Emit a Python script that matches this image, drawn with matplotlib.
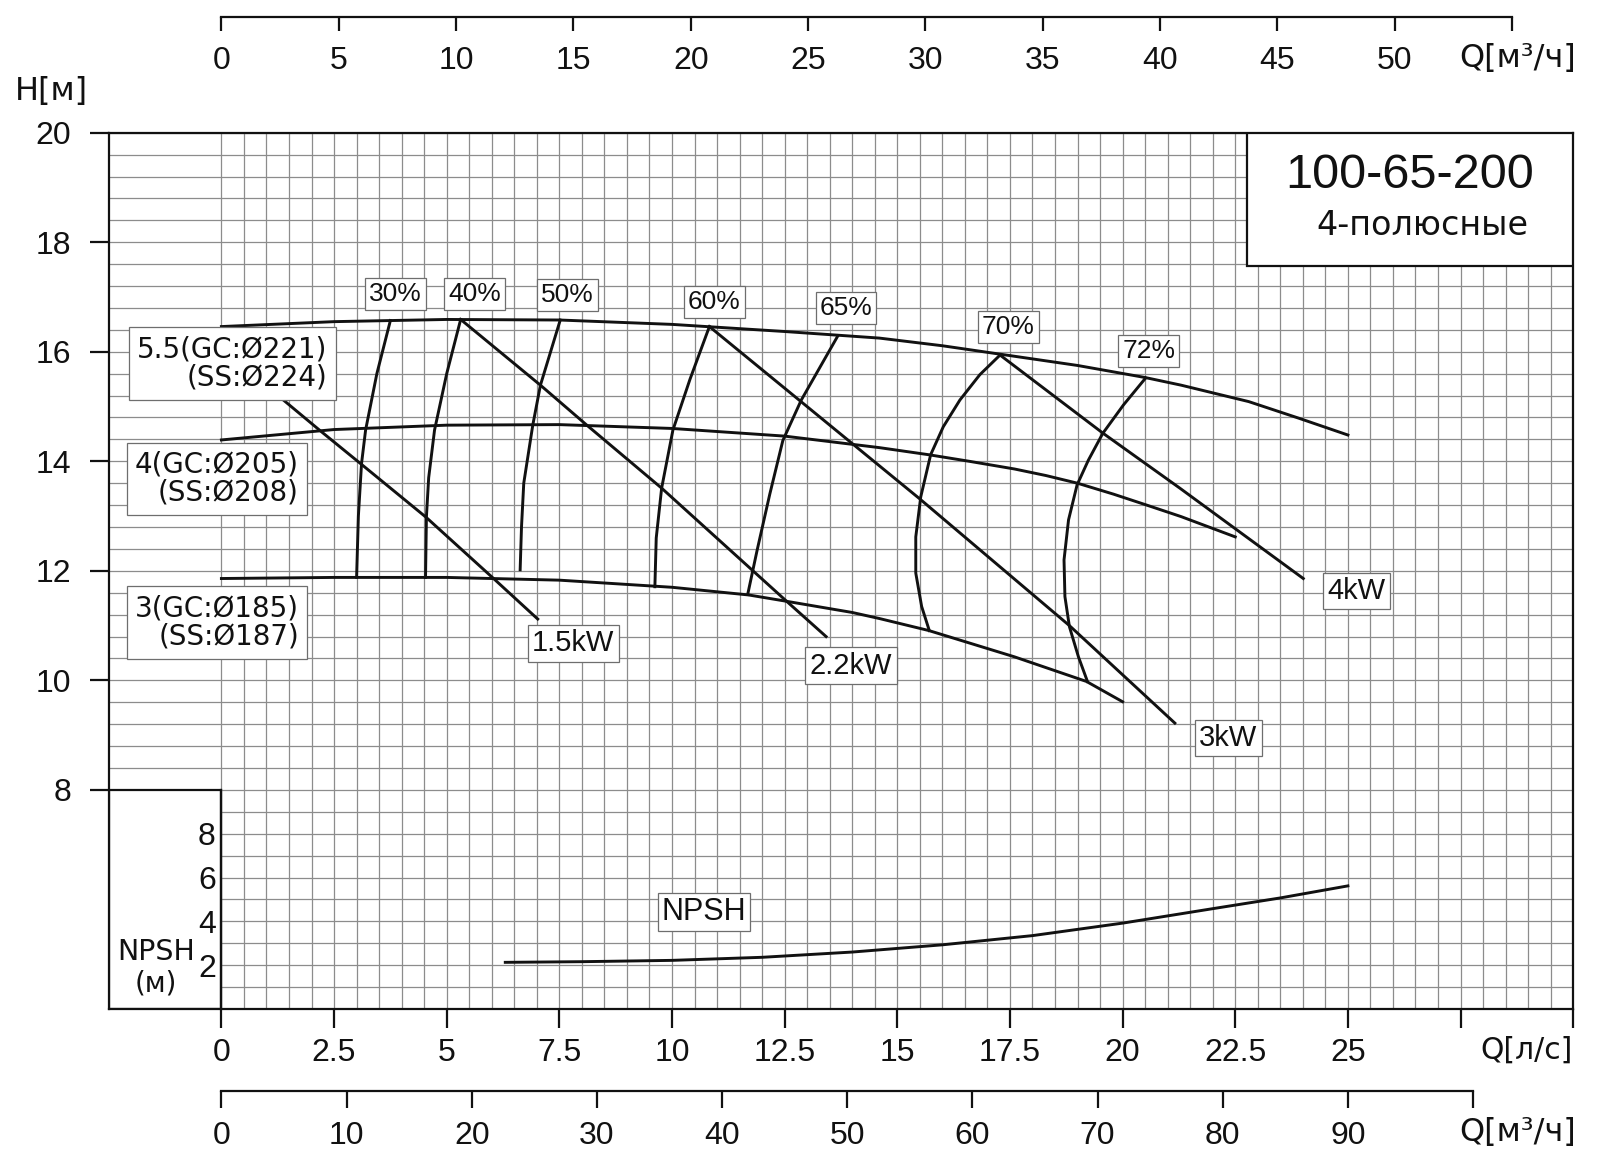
import numpy as np
import matplotlib
matplotlib.use('Agg')
from matplotlib import pyplot, patches, ticker

# head curves, Q in l/s, H in m
q_221 = [0, 2.5, 5, 7.5, 10, 12.5, 14.6, 16, 17.5, 19, 20.5, 21.3, 22.8, 23.9, 25]
h_221 = [16.46, 16.55, 16.59, 16.58, 16.50, 16.37, 16.25, 16.11, 15.93, 15.75, 15.53, 15.39, 15.09, 14.79, 14.48]
q_205 = [0, 2.5, 5, 7.5, 10, 12.5, 14.6, 15.7, 16.6, 17.6, 18.3, 19, 19.8, 20.5, 21.3, 22.5]
h_205 = [14.39, 14.58, 14.66, 14.67, 14.60, 14.46, 14.25, 14.12, 14.00, 13.86, 13.74, 13.60, 13.40, 13.21, 12.99, 12.62]
q_185 = [0, 2.5, 5, 7.5, 10, 11.7, 12.5, 14, 14.6, 15.7, 17.6, 19.2, 20.0]
h_185 = [11.86, 11.88, 11.88, 11.83, 11.70, 11.56, 11.45, 11.24, 11.13, 10.91, 10.43, 9.98, 9.61]
head_labels = ['5.5(GC:Ø221)\n(SS:Ø224)', '4(GC:Ø205)\n(SS:Ø208)', '3(GC:Ø185)\n(SS:Ø187)']

# iso-efficiency curves
eff_labels = ['30%', '40%', '50%', '60%', '65%', '70%', '72%']
eff_q = [[3.75, 3.45, 3.2, 3.11, 3.04, 3.0],
         [5.31, 5.0, 4.73, 4.6, 4.55, 4.53],
         [7.52, 7.08, 6.91, 6.71, 6.66, 6.63],
         [10.83, 10.4, 10.02, 9.77, 9.65, 9.62],
         [13.68, 12.87, 12.46, 12.17, 11.89, 11.68],
         [17.28, 16.83, 16.39, 16.02, 15.74, 15.52, 15.41, 15.41, 15.54, 15.71],
         [20.51, 20.02, 19.56, 19.24, 18.99, 18.80, 18.70, 18.72, 18.82, 19.02, 19.22]]
eff_h = [[16.57, 15.6, 14.57, 13.96, 13.0, 11.88],
         [16.59, 15.6, 14.57, 13.7, 12.99, 11.88],
         [16.58, 15.39, 14.66, 13.6, 12.8, 12.02],
         [16.46, 15.5, 14.57, 13.51, 12.6, 11.71],
         [16.29, 15.12, 14.38, 13.4, 12.38, 11.57],
         [15.94, 15.58, 15.12, 14.63, 14.12, 13.35, 12.62, 11.96, 11.35, 10.91],
         [15.52, 15.03, 14.51, 14.02, 13.57, 12.93, 12.20, 11.53, 10.98, 10.43, 9.98]]

# motor power lines
power_labels = ['1.5kW', '2.2kW', '3kW', '4kW']
power_q = [[1.33, 2.22, 3.13, 4.54, 6.04, 7.02],
           [5.31, 7.08, 8.11, 9.77, 12.55, 13.42],
           [10.83, 15.49, 18.82, 21.16],
           [17.28, 19.57, 21.27, 24.01]]
power_h = [[15.15, 14.54, 13.93, 12.98, 11.86, 11.12],
           [16.59, 15.39, 14.66, 13.51, 11.44, 10.80],
           [16.46, 13.32, 11.0, 9.22],
           [15.94, 14.51, 13.51, 11.86]]

# NPSH curve
npsh_q = [6.3, 8, 10, 12, 14, 16, 18, 20, 22, 23.5, 25]
npsh_v = [2.13, 2.16, 2.22, 2.36, 2.60, 2.93, 3.35, 3.92, 4.58, 5.07, 5.62]

# label positions (data coords)
head_label_pos = [(2.35, 15.79), (1.72, 13.68), (1.72, 11.06)]
eff_label_pos = [(3.87, 17.06), (5.62, 17.06), (7.68, 17.04), (10.94, 16.91),
                 (13.86, 16.80), (17.46, 16.46), (20.58, 16.01)]
power_label_pos = [(7.81, 10.68), (13.97, 10.27), (22.35, 8.95), (25.2, 11.63)]

pyplot.rcParams['font.family'] = ['Liberation Sans', 'DejaVu Sans']
ink = '#111111'
grid_col = '#8c8c8c'
lw_curve = 2.1
lw_frame = 1.6

fig = pyplot.figure(figsize=(16, 11.65), dpi=100)
ax = fig.add_axes([0.06797, 0.1339, 0.91528, 0.7522])
ax.set_xlim(-2.5, 30)
ax.set_ylim(4, 20)

for s in ax.spines.values():
    s.set_linewidth(lw_frame)
    s.set_color(ink)

ax.xaxis.set_major_locator(ticker.FixedLocator(np.arange(0, 30.01, 2.5)))
ax.xaxis.set_minor_locator(ticker.FixedLocator(np.arange(0, 30.01, 0.5)))
ax.yaxis.set_major_locator(ticker.FixedLocator(np.arange(8, 20.01, 2)))
ax.yaxis.set_minor_locator(ticker.MultipleLocator(0.4))
xlabs = ['0', '2.5', '5', '7.5', '10', '12.5', '15', '17.5', '20', '22.5', '25', '', '']
ax.set_xticklabels(xlabs)
ax.tick_params(which='major', axis='x', length=13.7, width=lw_frame, pad=7, labelsize=23, colors=ink)
ax.tick_params(which='major', axis='y', length=14, width=lw_frame, pad=13, labelsize=23, colors=ink)
ax.tick_params(which='minor', length=0)
ax.grid(which='both', color=grid_col, lw=0.9)

# NPSH corner box
ax.add_patch(patches.Rectangle((-2.5, 4), 2.5, 4, fc='white', ec=ink, lw=lw_frame, zorder=2))
ax.text(-1.45, 5.04, 'NPSH', family='DejaVu Sans', fontsize=20.5, ha='center', va='center', color=ink, zorder=6)
ax.text(-1.45, 4.46, '(м)', family='DejaVu Sans', fontsize=20, ha='center', va='center', color=ink, zorder=6)

# title box
ax.add_patch(patches.Rectangle((22.75, 17.57), 7.25, 2.43, fc='white', ec=ink, lw=lw_frame, zorder=3))
ax.text(26.36, 19.22, '100-65-200', fontsize=35, ha='center', va='center', color=ink, zorder=4)
ax.text(26.66, 18.31, '4-полюсные', family='DejaVu Sans', fontsize=24, ha='center', va='center', color=ink, zorder=4)

# curves
for q, h in [(q_221, h_221), (q_205, h_205), (q_185, h_185)]:
    ax.plot(q, h, color=ink, lw=lw_curve, zorder=3, solid_joinstyle='round')
for q, h in zip(eff_q, eff_h):
    ax.plot(q, h, color=ink, lw=lw_curve, zorder=3, solid_joinstyle='round')
for q, h in zip(power_q, power_h):
    ax.plot(q, h, color=ink, lw=lw_curve, zorder=3, solid_joinstyle='round')

box = dict(boxstyle='square,pad=0.15', fc='white', ec='#6e6e6e', lw=0.9)
for lab, (x, y) in zip(head_labels, head_label_pos):
    ax.text(x, y, lab, family='DejaVu Sans', fontsize=20, ha='right', va='center',
            multialignment='right', linespacing=1.0, color=ink, zorder=5,
            bbox=dict(boxstyle='square,pad=0.3', fc='white', ec='#6e6e6e', lw=0.9))
for lab, (x, y) in zip(eff_labels, eff_label_pos):
    ax.text(x, y, lab, fontsize=19, ha='center', va='center', color=ink, zorder=5, bbox=box)
for lab, (x, y) in zip(power_labels, power_label_pos):
    ax.text(x, y, lab, fontsize=21, ha='center', va='center', color=ink, zorder=5, bbox=box)

# NPSH panel sharing the grid
nax = ax.inset_axes([0, 4, 30, 4], transform=ax.transData)
nax.set_xlim(0, 30)
nax.set_ylim(0, 10)
nax.set_facecolor('none')
for k in ['top', 'right', 'bottom']:
    nax.spines[k].set_visible(False)
nax.spines['left'].set_linewidth(lw_frame)
nax.spines['left'].set_color(ink)
nax.set_xticks([])
nax.set_yticks([2, 4, 6, 8])
nax.tick_params(axis='y', length=0, pad=4, labelsize=23, colors=ink)
nax.plot(npsh_q, npsh_v, color=ink, lw=lw_curve, solid_joinstyle='round')
nax.text(10.71, 4.43, 'NPSH', fontsize=22, ha='center', va='center', color=ink,
         bbox=dict(boxstyle='square,pad=0.12', fc='white', ec='#6e6e6e', lw=0.9))

# top flow scale
top = ax.secondary_xaxis(1.1317, functions=(lambda q: q * 48 / 25, lambda t: t * 25 / 48))
top.set_alignment('bottom')
top.spines['bottom'].set_bounds(0, 55)
top.spines['bottom'].set_linewidth(lw_frame)
top.spines['bottom'].set_color(ink)
top.set_xticks(np.arange(0, 56, 5))
top.set_xticklabels([str(v) for v in range(0, 55, 5)] + [''])
top.tick_params(direction='out', length=10, width=lw_frame, pad=10.5, labelsize=23, colors=ink)

# bottom m3/h scale
bot = ax.secondary_xaxis(-0.0941, functions=(lambda q: q * 3.6, lambda m: m / 3.6))
bot.spines['bottom'].set_bounds(0, 100)
bot.spines['bottom'].set_linewidth(lw_frame)
bot.spines['bottom'].set_color(ink)
bot.set_xticks(np.arange(0, 101, 10))
bot.set_xticklabels([str(v) for v in range(0, 100, 10)] + [''])
bot.tick_params(direction='out', length=12.5, width=lw_frame, pad=8.5, labelsize=23, colors=ink)

# axis captions
ax.text(-3.78, 20.76, 'H[м]', family='DejaVu Sans', fontsize=23, ha='center', va='center', color=ink)
ax.text(27.47, 21.36, 'Q[м³/ч]', family='DejaVu Sans', fontsize=23, ha='left', va='center', color=ink)
ax.text(30.0, 3.25, 'Q[л/с]', family='DejaVu Sans', fontsize=21.5, ha='right', va='center', color=ink)
ax.text(27.47, 1.74, 'Q[м³/ч]', family='DejaVu Sans', fontsize=23, ha='left', va='center', color=ink)

fig.savefig('out.png', dpi=100, facecolor='white')
